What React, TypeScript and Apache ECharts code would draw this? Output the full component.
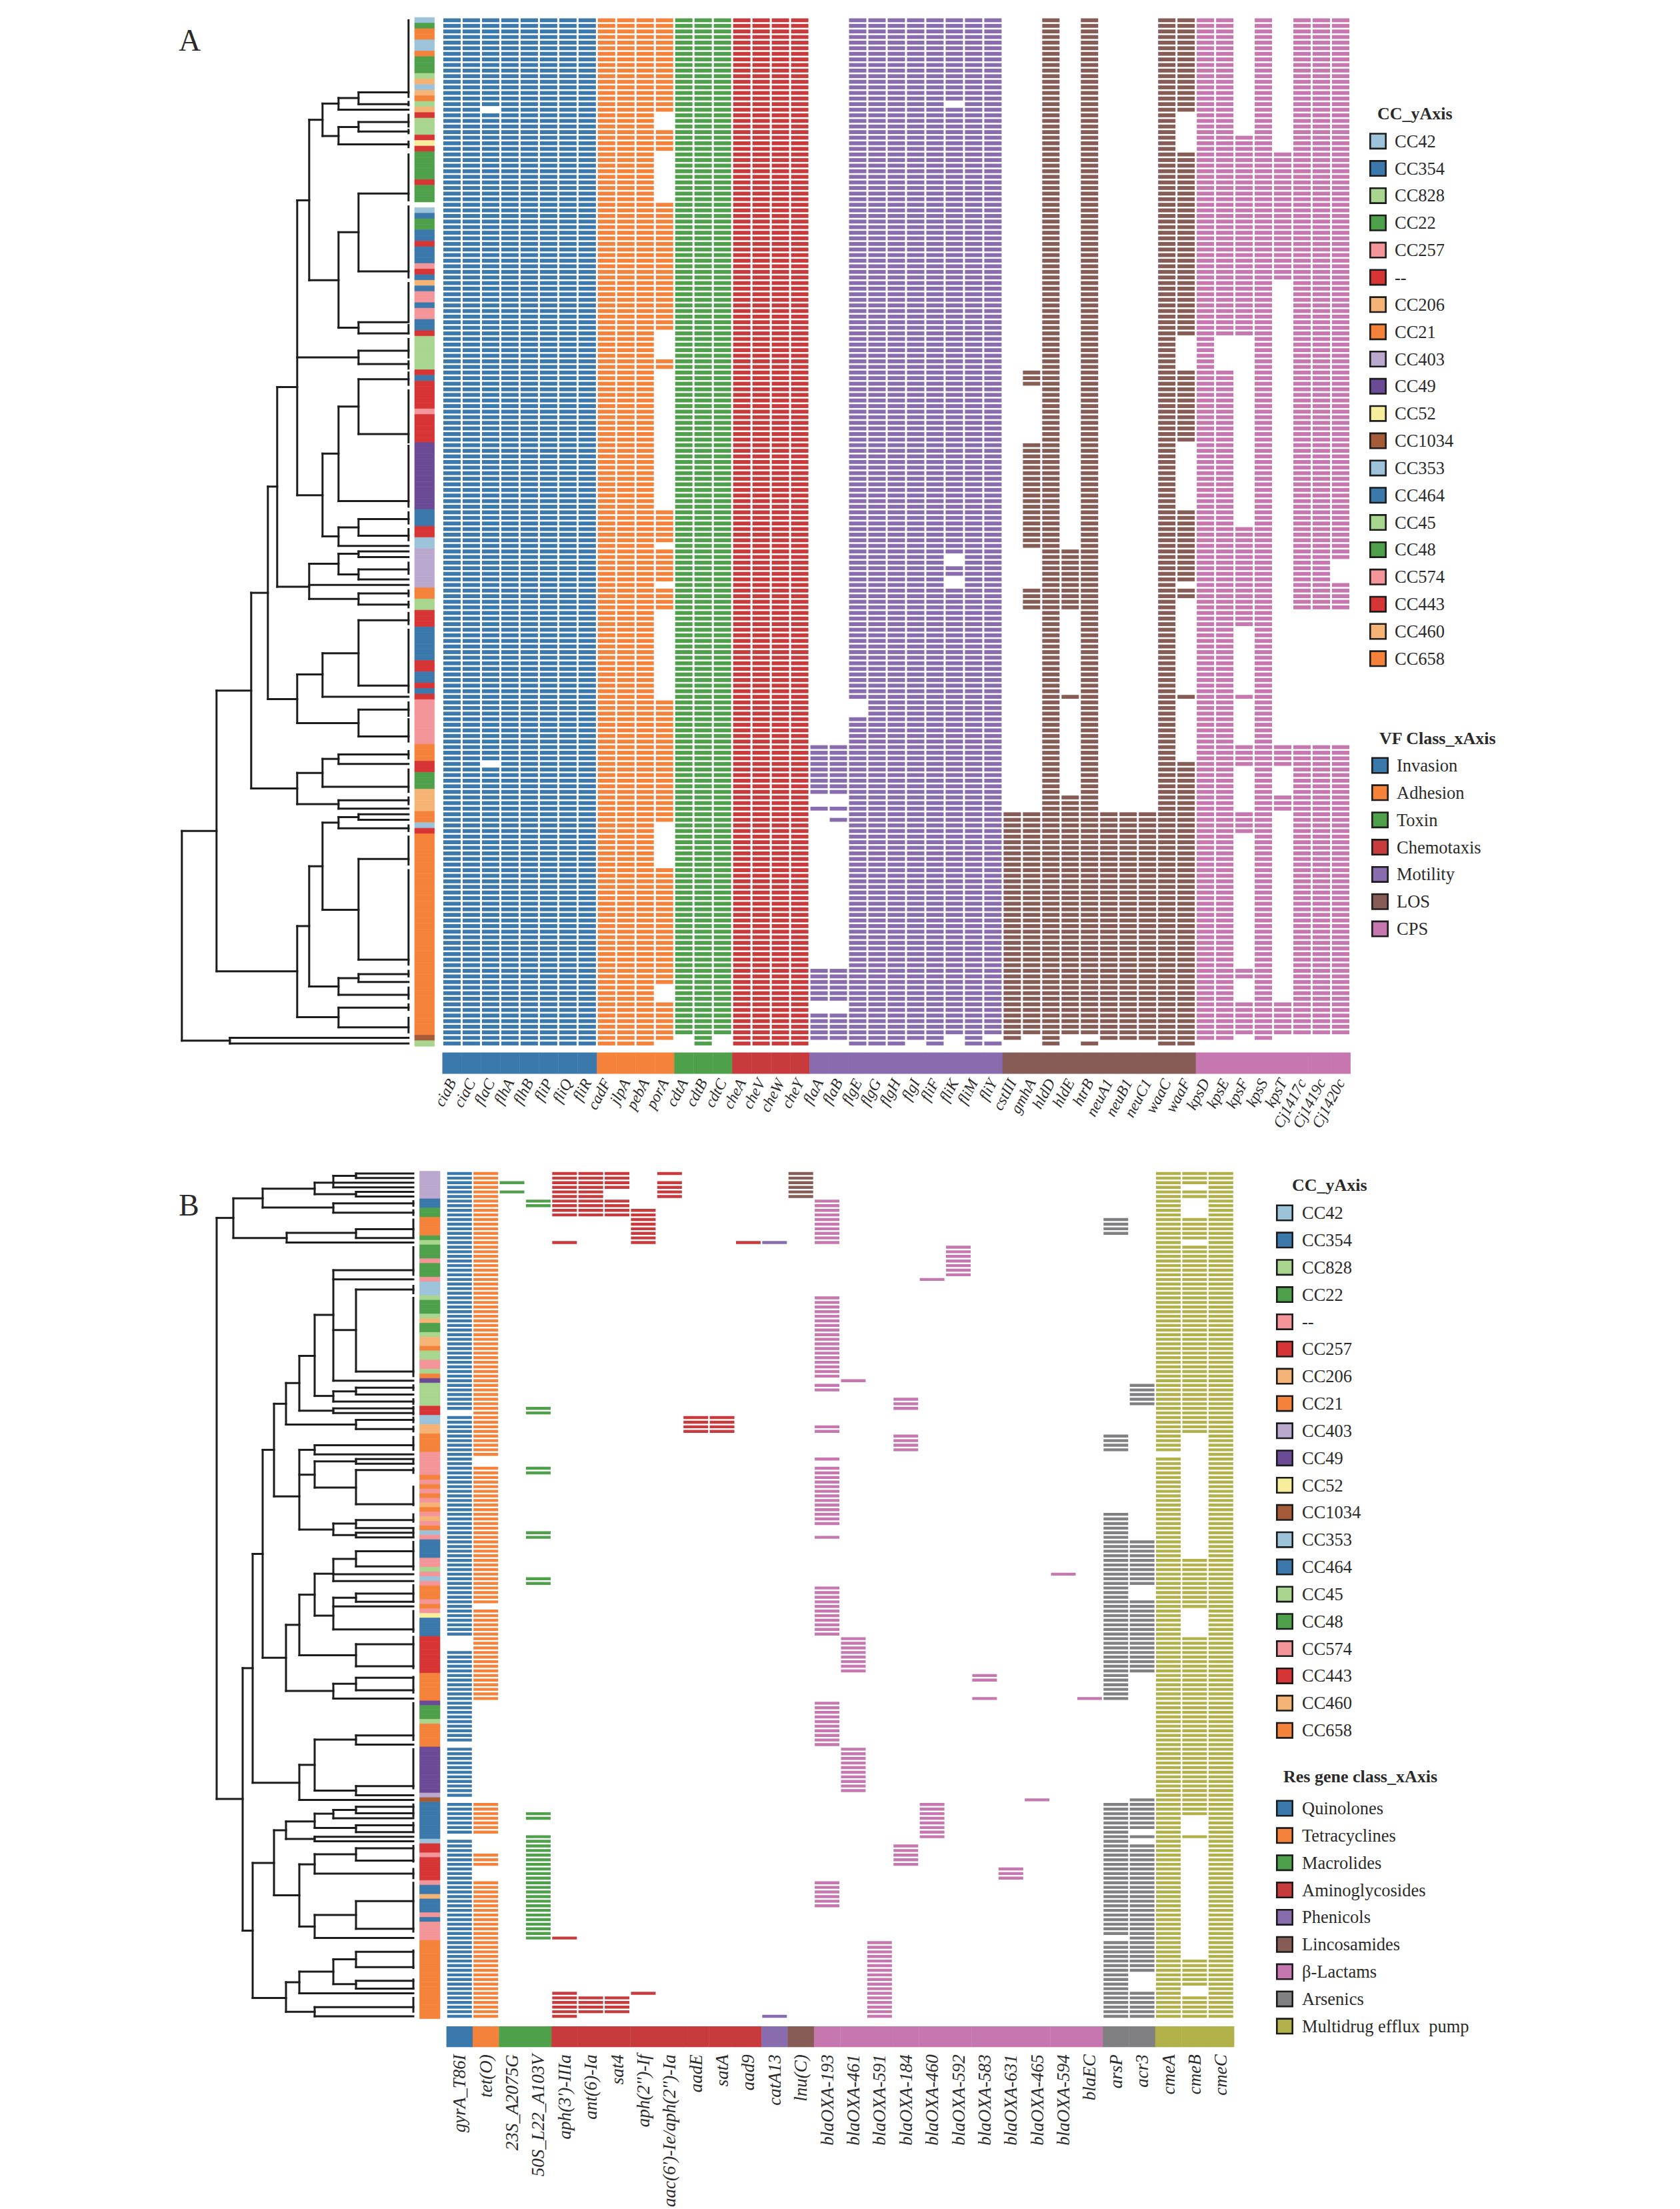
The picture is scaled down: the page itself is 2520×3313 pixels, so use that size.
import React, { useEffect, useRef } from "react";
import * as echarts from "echarts";

// ---------- colours ----------
const ccColors: Record<string, string> = {
  lb: "#9CC3D9", b: "#3B78AB", lg: "#A8D68F", g: "#4FA04B", p: "#F49599", r: "#D73535",
  lo: "#F5B475", o: "#F5823A", lp: "#BBA8CF", pu: "#6C4B96", y: "#F6EE9C", br: "#A65B38",
};
const classColorsA = ["#3B78AB", "#F5823A", "#4FA04B", "#C83B3D", "#886CAE", "#875C56", "#C677B0"];
const classColorsB = ["#3B78AB", "#F5823A", "#4FA04B", "#C83B3D", "#886CAE", "#875C56", "#C677B0", "#808083", "#B2B149"];

// ---------- panel A genes ----------
const invasionGenes = ["ciaB", "ciaC", "flaC", "flhA", "flhB", "fliP", "fliQ", "fliR"];
const invasionRows = ["0-183", "0-183", "0-15,17-132,134-183", "0-183", "0-183", "0-183", "0-183", "0-183"];
const adhesionGenes = ["cadF", "jlpA", "pebA", "porA"];
const adhesionRows = ["0-183", "0-183", "0-183", "0-16,20-23,33-55,61-62,88-93,95-100,102-105,122-143,152-172,176-182"];
const toxinGenes = ["cdtA", "cdtB", "cdtC"];
const toxinRows = ["0-181", "0-183", "0-181"];
const chemotaxisGenes = ["cheA", "cheV", "cheW", "cheY"];
const chemotaxisRows = ["0-183", "0-183", "0-183", "0-183"];
const motilityGenes = ["flaA", "flaB", "flgE", "flgG", "flgH", "flgI", "fliF", "fliK", "fliM", "fliY"];
const motilityRows = [
  "130-138,141,170-175,178-182", "130-138,141,143,170-175,178-182", "0-121,125-183", "0-183", "0-183",
  "0-182", "0-183", "0-14,16-95,98-99,102-181", "0-183", "0-181,183",
];
const losGenes = ["cstIII", "gmhA", "hldD", "hldE", "htrB", "neuA1", "neuB1", "neuC1", "waaC", "waaF"];
const losRows = [
  "142-182", "63-65,76-94,102-105,142-181", "0-183", "95-105,121,139-181", "0-181,183", "142-182", "142-182", "142-182",
  "0-183", "0-16,24-56,63-75,88-100,102-103,121,133-183",
];
const cpsGenes = ["kpsD", "kpsE", "kpsF", "kpsS", "kpsT", "Cj1417c", "Cj1419c", "Cj1420c"];
const cpsRows = [
  "0-182", "0-56,63-182", "21-56,91-108,121,130-133,142-145,170-171,176-181", "0-182",
  "24-46,130-133,139-141,176-181", "0-105,130-181", "0-105,130-181", "0-96,101-105,130-181",
];
const classesA: [string[], string[]][] = [
  [invasionGenes, invasionRows], [adhesionGenes, adhesionRows], [toxinGenes, toxinRows], [chemotaxisGenes, chemotaxisRows],
  [motilityGenes, motilityRows], [losGenes, losRows], [cpsGenes, cpsRows],
];

// ---------- panel B genes ----------
const quinoloneGenes = ["gyrA_T86I"];
const quinoloneRows = ["0-51,53-100,104-123,125-135,137-143,145-183"];
const tetracyclineGenes = ["tet(O)"];
const tetracyclineRows = ["0-61,64-93,95-114,137-143,148-150,154-183"];
const macrolideGenes = ["23S_A2075G", "50S_L22_A103V"];
const macrolideRows = ["2,4", "6-7,51-52,64-65,78-79,88-89,139-140,144-166"];
const aminoglycosideGenes = ["aph(3')-IIIa", "ant(6)-Ia", "sat4", "aph(2'')-If", "aac(6')-Ie/aph(2'')-Ia", "aadE", "satA", "aad9"];
const aminoglycosideRows = ["0-9,15,166,178-183", "0-9,179-182", "0-3,6-9,179-182", "8-15,178", "0,2-5", "53-56", "53-56", "15"];
const phenicolGenes = ["catA13"];
const phenicolRows = ["15,183"];
const lincosamideGenes = ["lnu(C)"];
const lincosamideRows = ["0-5"];
const lactamGenes = ["blaOXA-193", "blaOXA-461", "blaOXA-591", "blaOXA-184", "blaOXA-460", "blaOXA-592", "blaOXA-583", "blaOXA-631", "blaOXA-465", "blaOXA-594", "blaEC"];
const lactamRows = [
  "6-15,27-44,46-47,55-56,62,64-76,79,90-100,115-124,154-159", "45,101-108,125-134", "167-183", "49-51,57-60,146-150",
  "23,137-144", "16-22", "109-110,114", "151-153", "136", "87", "114",
];
const arsenicGenes = ["arsP", "acr3"];
const arsenicRows = ["10-13,57-60,74-114,137-165,167-183", "46-50,80-89,93-108,136-142,144,146-173,178-183"];
const effluxGenes = ["cmeA", "cmeB", "cmeC"];
const effluxRows = ["0-60,62-183", "0-2,4-5,10-14,16-56,84-94,101-139,144,171-176,179-183", "0-183"];
const classesB: [string[], string[]][] = [
  [quinoloneGenes, quinoloneRows], [tetracyclineGenes, tetracyclineRows], [macrolideGenes, macrolideRows],
  [aminoglycosideGenes, aminoglycosideRows], [phenicolGenes, phenicolRows], [lincosamideGenes, lincosamideRows],
  [lactamGenes, lactamRows], [arsenicGenes, arsenicRows], [effluxGenes, effluxRows],
];

// ---------- CC strips, as runs of [colour key, row count] ----------
const stripRunsA: [string, number][] = [
  ["lb",1],["g",1],["o",2],["lb",2],["o",1],["g",3],["lg",1],["lo",1],["lb",1],["lo",1],["o",1],["lg",1],["lo",1],["r",1],["lg",3],["r",1],["y",1],["r",1],
  ["g",5],["r",1],["g",3],["",1],["lb",1],["b",1],["g",2],["b",2],["r",1],["b",3],["p",1],["r",1],["b",1],["lo",1],["b",1],["p",2],["b",1],["p",2],["b",2],["r",1],
  ["lg",6],["r",1],["b",1],["r",5],["p",1],["r",5],["pu",12],["b",3],["r",2],["lb",2],["lp",7],["o",2],["lg",2],["r",3],["b",6],["r",2],["b",2],["r",1],["b",1],["r",1],
  ["p",8],["o",3],["r",2],["g",3],["lo",4],["o",2],["lb",1],["r",1],["o",36],["br",1],["lg",1],
];
const stripRunsB: [string, number][] = [
  ["lp",6],["b",2],["g",2],["o",4],["g",1],["lg",1],["g",3],["p",1],["g",3],["p",1],["lb",3],["lg",1],["g",3],["lg",1],["lo",1],["g",2],["lg",1],["lo",2],["o",1],["lg",2],
  ["p",2],["lg",1],["o",1],["pu",1],["lg",5],["r",2],["lb",2],["lo",2],["o",4],["p",5],["o",1],["p",1],["o",1],["p",1],["o",1],["p",1],["lo",1],["o",1],["p",1],["lo",1],
  ["p",1],["o",1],["lb",1],["p",1],["b",4],["p",2],["lg",1],["p",1],["lb",1],["p",1],["o",3],["p",1],["o",1],["p",1],["y",1],["b",4],["r",8],["o",6],["pu",1],["g",3],["lg",1],
  ["o",5],["pu",10],["lp",1],["br",1],["b",8],["lb",1],["r",2],["p",1],["r",5],["p",1],["b",2],["lo",1],["b",3],["p",1],["b",1],["p",4],["o",17],
];

// ---------- dendrograms: [height, [row, child height], ...] ----------
type Node = [number, ...[number, number][]];
const treeA: Node[] = [
  [75,[12.9,0],[15,0]],[105,[13.9,75],[16,0]],[75,[18.2,0],[19.9,0]],[105,[19.1,75],[22.2,0]],[129,[14.9,105],[20.7,105]],
  [149,[17.8,129],[46.5,105]],[105,[37.9,75],[55,75]],[75,[31,0],[44.9,0]],[75,[54,0],[56,0]],[75,[59.1,0],[61.5,0]],
  [167,[32.2,149],[60.3,75],[84.95,129]],[129,[77.5,105],[92.3,105]],[105,[69.1,75],[86,0]],[75,[64.2,0],[74,0]],
  [105,[90.7,75],[94,0]],[75,[89.2,0],[92.2,0]],[197,[65.6,167],[101.3,149]],[149,[97.2,105],[101,0],[103.5,75]],
  [105,[95.4,75],[99.1,75]],[75,[95,0],[96,0]],[75,[98.2,0],[100,0]],[75,[102.5,0],[104.5,0]],[211,[83.4,197],[121.4,167]],
  [167,[117,129],[125.7,75]],[129,[113.2,75],[121,0]],[75,[107.3,0],[119,0]],[75,[123.3,0],[128.1,0]],[236,[102.4,211],[137.4,167]],
  [167,[134.6,129],[140.2,105]],[129,[132.1,105],[137.1,0]],[105,[131.3,0],[133,0]],[105,[139.5,0],[141,0]],
  [288,[119.9,236],[170.1,167]],[167,[162,149],[178.3,105]],[149,[151.3,129],[172.8,105]],[129,[143.5,105],[159.1,75]],
  [105,[142.5,75],[144.5,0]],[75,[142,0],[143,0]],[75,[150,0],[168,0]],[105,[171.3,75],[174.3,0]],[75,[170.6,0],[172,0]],
  [105,[176.6,0],[180.1,0]],[340,[145,288],[182.5,268]],[268,[182,0],[183,0]],
];
const leafSpansA: [number, number][] = [
  [0,13.7],[14.6,15.2],[16.9,19],[19.6,20.2],[21.7,22.7],[24,32.2],[33.3,46],[47,53.7],[54.5,56],[57,60.3],[61,62.3],[63,65.2],[66.2,75.5],
  [76.1,87],[88,90],[91,93],[97,99],[102,103],[104,105],[106,108],[109,120.2],[122,124.4],[125,129],[130.7,132],[134,138],[139,140.2],
  [144,145],[146,151],[152,168.9],[170,171],[173,175],[176,177],[178.4,181],
];
const treeB: Node[] = [
  [86,[0,0],[1,0]],[120,[0.5,86],[2,0],[3,0]],[86,[4,0],[5,0]],[148,[2,120],[4.5,86]],[120,[6.5,0],[8.5,0]],[226,[3.3,148],[7.4,120]],
  [270,[5.4,226],[14,190]],[190,[12.9,86],[15,0]],[86,[12.1,0],[14,0]],[295,[9.65,270],[135.8,256]],
  [120,[21,0],[23,0],[34,86],[45,0]],[86,[25.2,0],[43,0]],[148,[30.7,120],[48.3,120]],[120,[47.3,86],[49.5,0]],[86,[46.5,0],[48,0]],
  [171,[39.6,148],[51.5,120]],[120,[51,0],[52,0]],[191,[45.5,171],[54.5,86]],[86,[53.5,0],[55.5,0]],[209,[50,191],[70.1,171]],
  [171,[60,148],[65.4,148],[77.3,120]],[148,[59,0],[61,0]],[148,[62.5,86],[68.2,86]],[86,[62,0],[63,0]],[86,[64.4,0],[71.8,0]],
  [120,[76,86],[78.5,86]],[86,[75.25,0],[77,0]],[86,[78,0],[79,0]],[226,[60,209],[105.15,191]],[241,[82.6,226],[132.3,171]],
  [256,[107.4,241],[164.4,241]],[191,[98,171],[112.35,120]],[171,[91.45,148],[104.6,86]],[148,[86.9,120],[96,120]],
  [120,[83.7,86],[87,0],[88.5,0]],[86,[82,0],[85.3,0]],[120,[92.1,86],[94,0],[99,0]],[86,[91.2,0],[93,0]],[86,[102.2,0],[107,0]],
  [120,[110.8,86],[114,0]],[86,[109.5,0],[112.2,0]],[171,[128.4,148],[136,0]],[148,[122.9,86],[134,86]],[86,[122,0],[124,0]],[86,[133,0],[135,0]],
  [241,[149.7,209],[179,191]],[209,[142.6,191],[156.7,171]],[191,[140.7,148],[144.5,148]],[148,[139,120],[142.1,86]],[120,[138.2,86],[140,0]],
  [86,[137.5,0],[138.9,0]],[86,[141.5,0],[143,0]],[148,[144,0],[145,0]],[171,[150,148],[163.5,148]],[148,[147.8,86],[152,0]],[86,[146.5,0],[149.2,0]],
  [148,[161,86],[166,0]],[86,[158,0],[164,0]],[191,[175.6,171],[182,148]],[171,[173.3,120],[178,0]],[120,[170.6,86],[176,86]],[86,[169,0],[172.3,0]],
  [86,[175.3,0],[177,0]],[148,[181,0],[183,0]],
];
const leafSpansB: [number, number][] = [
  [6,7],[8,9],[10,14],[16,22],[24.4,26],[27,44],[46,47],[49,50],[50.7,52.3],[53,54],[55,56],[57.2,60],[62,63],[64,65],[68,72],[74,75.6],[77,79],[80,86],
  [89.4,93],[95,99.5],[100.6,107.4],[109.3,112.7],[115,123],[125,133.5],[137,139.6],[141,143],[146,149.4],[151,153],[154,164.6],[168.7,172.5],[175,177],[179,182],
];

// ---------- legends ----------
const ccLegendKeys = ["lb", "b", "lg", "g", "p", "r", "lo", "o", "lp", "pu", "y", "br", "lb", "b", "lg", "g", "p", "r", "lo", "o"];
const ccLegendA = ["CC42","CC354","CC828","CC22","CC257","--","CC206","CC21","CC403","CC49","CC52","CC1034","CC353","CC464","CC45","CC48","CC574","CC443","CC460","CC658"];
const ccLegendB = ["CC42","CC354","CC828","CC22","--","CC257","CC206","CC21","CC403","CC49","CC52","CC1034","CC353","CC464","CC45","CC48","CC574","CC443","CC460","CC658"];
const vfLegend = ["Invasion", "Adhesion", "Toxin", "Chemotaxis", "Motility", "LOS", "CPS"];
const resLegend = ["Quinolones", "Tetracyclines", "Macrolides", "Aminoglycosides", "Phenicols", "Lincosamides", "β-Lactams", "Arsenics", "Multidrug efflux  pump"];

const ROWS = 184;
const SERIF = "Liberation Serif";
const INK = "#2a2a2a";
const rowNames = Array.from({ length: ROWS }, (_, i) => String(i));

const parseRows = (s: string) => {
  const out: number[] = [];
  s.split(",").forEach((part) => {
    const [a, b] = part.split("-").map(Number);
    for (let i = a; i <= (b === undefined ? a : b); i++) out.push(i);
  });
  return out;
};
const expandRuns = (runs: [string, number][]) => {
  const out: [number, number, string][] = [];
  let r = 0;
  runs.forEach(([k, n]) => {
    for (let i = 0; i < n; i++, r++) if (k) out.push([0, r, k]);
  });
  return out;
};

function panel(opts: {
  base: number; classes: [string[], string[]][]; colors: string[]; strip: [string, number][]; tree: Node[]; leaves: [number, number][];
  dendroLeft: number; dendroMax: number; stripLeft: number; stripW: number; heatLeft: number; heatW: number; top: number; height: number;
  bandTop: number; bandH: number; cellW: number; cellH: number; rotate: number; fontSize: number; margin: number; labelPadding: number[];
}) {
  const { base, classes, colors, strip, tree, leaves } = opts;
  const genes: string[] = [];
  const cells: [number, number, number][] = [];
  const band: [number, number, number][] = [];
  classes.forEach(([names, rows], ci) => {
    names.forEach((n, i) => {
      const c = genes.length;
      genes.push(n);
      band.push([c, 0, ci]);
      parseRows(rows[i]).forEach((r) => cells.push([c, r, ci]));
    });
  });
  const grid = [
    { left: opts.dendroLeft, top: opts.top, width: opts.dendroMax, height: opts.height },
    { left: opts.stripLeft, top: opts.top, width: opts.stripW, height: opts.height },
    { left: opts.heatLeft, top: opts.top, width: opts.heatW, height: opts.height },
    { left: opts.heatLeft, top: opts.bandTop, width: opts.heatW, height: opts.bandH },
  ];
  const hidden = { show: false };
  const xAxis: any[] = [
    { gridIndex: base, type: "value", min: 0, max: opts.dendroMax, inverse: true, ...hidden },
    { gridIndex: base + 1, type: "category", data: ["CC"], ...hidden },
    { gridIndex: base + 2, type: "category", data: genes, ...hidden },
    {
      gridIndex: base + 3, type: "category", data: genes, position: "bottom",
      axisLine: { show: false }, axisTick: { show: false }, splitLine: { show: false },
      axisLabel: { interval: 0, rotate: opts.rotate, margin: opts.margin, padding: opts.labelPadding, fontFamily: SERIF, fontStyle: "italic", fontSize: opts.fontSize, color: INK, hideOverlap: false },
    },
  ];
  const yAxis: any[] = [
    { gridIndex: base, type: "value", min: -0.5, max: ROWS - 0.5, inverse: true, ...hidden },
    { gridIndex: base + 1, type: "category", data: rowNames, inverse: true, ...hidden },
    { gridIndex: base + 2, type: "category", data: rowNames, inverse: true, ...hidden },
    { gridIndex: base + 3, type: "category", data: ["class"], ...hidden },
  ];
  const line = (x1: number[], x2: number[]) => ({
    type: "line",
    shape: { x1: x1[0], y1: x1[1], x2: x2[0], y2: x2[1] },
    style: { stroke: "#1c1c1c", lineWidth: 3, lineCap: "square" },
  });
  const series: any[] = [
    {
      type: "custom", xAxisIndex: base, yAxisIndex: base, silent: true, clip: false, progressive: 0,
      data: tree.map((n) => [n[0], (n[1] as [number, number])[0]]), encode: { x: 0, y: 1 },
      renderItem: (p: any, api: any) => {
        const node = tree[p.dataIndex];
        const d = node[0] as number;
        const kids = node.slice(1) as [number, number][];
        const rs = kids.map((k) => k[0]);
        const children: any[] = [line(api.coord([d, Math.min(...rs)]), api.coord([d, Math.max(...rs)]))];
        kids.forEach(([r, cd]) => children.push(line(api.coord([d, r]), api.coord([cd, r]))));
        return { type: "group", children };
      },
    },
    {
      type: "custom", xAxisIndex: base, yAxisIndex: base, silent: true, clip: false, progressive: 0,
      data: leaves.map((s) => [0, s[0], s[1]]), encode: { x: 0, y: 1 },
      renderItem: (_p: any, api: any) => line(api.coord([0, api.value(1)]), api.coord([0, api.value(2)])),
    },
    {
      type: "custom", xAxisIndex: base + 1, yAxisIndex: base + 1, silent: true, progressive: 0,
      dimensions: ["x", "y", { name: "k", type: "ordinal" }],
      data: expandRuns(strip), encode: { x: 0, y: 1 },
      renderItem: (_p: any, api: any) => {
        const c = api.coord([0, api.value(1)]);
        const s = api.size([1, 1]);
        return {
          type: "rect",
          shape: { x: c[0] - s[0] / 2, y: c[1] - s[1] / 2, width: s[0], height: s[1] },
          style: { fill: ccColors[api.value(2) as string], stroke: ccColors[api.value(2) as string], lineWidth: 0.7 },
        };
      },
    },
    {
      type: "custom", xAxisIndex: base + 2, yAxisIndex: base + 2, silent: true, progressive: 0,
      data: cells, encode: { x: 0, y: 1 },
      renderItem: (_p: any, api: any) => {
        const c = api.coord([api.value(0), api.value(1)]);
        return {
          type: "rect",
          shape: { x: c[0] - opts.cellW / 2, y: c[1] - opts.cellH / 2, width: opts.cellW, height: opts.cellH },
          style: { fill: colors[api.value(2) as number] },
        };
      },
    },
    {
      type: "custom", xAxisIndex: base + 3, yAxisIndex: base + 3, silent: true, progressive: 0,
      data: band, encode: { x: 0, y: 1 },
      renderItem: (_p: any, api: any) => {
        const c = api.coord([api.value(0), 0]);
        const s = api.size([1, 1]);
        return {
          type: "rect",
          shape: { x: c[0] - s[0] / 2, y: c[1] - s[1] / 2, width: s[0] + 0.4, height: s[1] },
          style: { fill: colors[api.value(2) as number] },
        };
      },
    },
  ];
  return { grid, xAxis, yAxis, series };
}

function legendBlock(title: string, titleX: number, titleY: number, labels: string[], fills: string[], swatchX: number, labelX: number, firstY: number) {
  const els: any[] = [
    { type: "text", style: { text: title, x: titleX, y: titleY, fontFamily: SERIF, fontWeight: "bold", fontSize: 26, fill: INK, verticalAlign: "middle", align: "left" } },
  ];
  labels.forEach((t, i) => {
    const y = firstY + i * 40.85;
    els.push({ type: "rect", shape: { x: swatchX + 1.3, y: y - 11.2, width: 23.4, height: 22.4 }, style: { fill: fills[i], stroke: "#1c1c1c", lineWidth: 2.6 } });
    els.push({ type: "text", style: { text: t, x: labelX, y, fontFamily: SERIF, fontSize: 26.5, fill: INK, verticalAlign: "middle", align: "left" } });
  });
  return els;
}

export default function App() {
  const ref = useRef<HTMLDivElement>(null);
  useEffect(() => {
    if (!ref.current) return;
    const chart = echarts.init(ref.current, undefined, { renderer: "svg" });
    const a = panel({
      base: 0, classes: classesA, colors: classColorsA, strip: stripRunsA, tree: treeA, leaves: leafSpansA,
      dendroLeft: 272.8, dendroMax: 340, stripLeft: 622, stripW: 29.6, heatLeft: 663.5, heatW: 1362, top: 26.2, height: 1543,
      bandTop: 1578.6, bandH: 32, cellW: 26, cellH: 5.8, rotate: 62, fontSize: 23.5, margin: 9, labelPadding: [0, 0, 0, 0],
    });
    const b = panel({
      base: 4, classes: classesB, colors: classColorsB, strip: stripRunsB, tree: treeB, leaves: leafSpansB,
      dendroLeft: 325, dendroMax: 295, stripLeft: 629.5, stripW: 30.5, heatLeft: 669.6, heatW: 1181.4, top: 1756.5, height: 1271,
      bandTop: 3039, bandH: 32, cellW: 37, cellH: 4.4, rotate: 90, fontSize: 27, margin: 11, labelPadding: [6, 0, 0, 0],
    });
    const graphic: any[] = [
      { type: "text", style: { text: "A", x: 268, y: 37.5, fontFamily: SERIF, fontSize: 46, fill: INK, verticalAlign: "alphabetic" } },
      { type: "text", style: { text: "B", x: 268, y: 1784, fontFamily: SERIF, fontSize: 46, fill: INK, verticalAlign: "alphabetic" } },
      ...legendBlock("CC_yAxis", 2066, 170, ccLegendA, ccLegendKeys.map((k) => ccColors[k]), 2054, 2092, 211.7),
      ...legendBlock("VF Class_xAxis", 2069, 1107, vfLegend, classColorsA, 2057, 2095, 1148),
      ...legendBlock("CC_yAxis", 1938, 1777, ccLegendB, ccLegendKeys.map((k) => ccColors[k]), 1914, 1953, 1819),
      ...legendBlock("Res gene class_xAxis", 1925, 2664, resLegend, classColorsB, 1914, 1953, 2712),
    ];
    chart.setOption({
      animation: false,
      backgroundColor: "#ffffff",
      grid: [...a.grid, ...b.grid],
      xAxis: [...a.xAxis, ...b.xAxis],
      yAxis: [...a.yAxis, ...b.yAxis],
      series: [...a.series, ...b.series],
      graphic,
    });
    return () => chart.dispose();
  }, []);
  return <div ref={ref} style={{ position: "absolute", left: 0, top: 0, width: 2520, height: 3313 }} />;
}
